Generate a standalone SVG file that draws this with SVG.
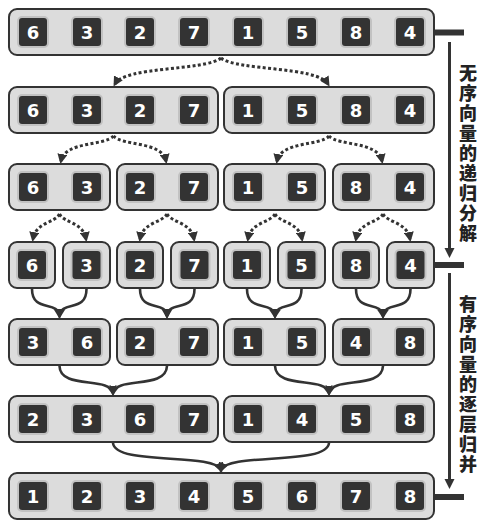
<svg xmlns="http://www.w3.org/2000/svg" width="484" height="530" viewBox="0 0 484 530">
<style>
.box{fill:#dcdcdc;stroke:#333;stroke-width:2}
.ring{fill:#c2c2c2}
.sq{fill:#333}
.d{font-family:"DejaVu Sans",sans-serif;font-weight:bold;font-size:18px;fill:#fff;text-anchor:middle;dominant-baseline:central}
.dot{fill:none;stroke:#333;stroke-width:3;stroke-dasharray:3 2.4;marker-end:url(#ah)}
.mg{fill:none;stroke:#333;stroke-width:2.6;marker-end:url(#ah2)}
.lab{font-family:"Noto Sans CJK SC",sans-serif;font-weight:900;font-size:18px;fill:#222;writing-mode:vertical-rl;text-orientation:upright;letter-spacing:2px}
</style>
<defs>
<marker id="ah" viewBox="0 0 10 10" refX="7" refY="5" markerWidth="10" markerHeight="10" markerUnits="userSpaceOnUse" orient="auto"><path d="M0,0 L10,5 L0,10 z" fill="#333"/></marker>
<marker id="ah2" viewBox="0 0 10 10" refX="7" refY="5" markerWidth="10" markerHeight="10" markerUnits="userSpaceOnUse" orient="auto"><path d="M0,0 L10,5 L0,10 z" fill="#333"/></marker>
<g id="cell"><rect class="ring" x="-16" y="-16" width="32" height="32" rx="5"/><rect class="sq" x="-14" y="-14" width="28" height="28" rx="3"/></g>
</defs>

<!-- Row 1 -->
<g id="r1">
<rect class="box" x="9" y="9" width="425" height="46" rx="8"/>
<g transform="translate(33,32)"><use href="#cell"/><text class="d">6</text></g>
<g transform="translate(87,32)"><use href="#cell"/><text class="d">3</text></g>
<g transform="translate(140,32)"><use href="#cell"/><text class="d">2</text></g>
<g transform="translate(194,32)"><use href="#cell"/><text class="d">7</text></g>
<g transform="translate(248,32)"><use href="#cell"/><text class="d">1</text></g>
<g transform="translate(302,32)"><use href="#cell"/><text class="d">5</text></g>
<g transform="translate(356,32)"><use href="#cell"/><text class="d">8</text></g>
<g transform="translate(410,32)"><use href="#cell"/><text class="d">4</text></g>
</g>

<!-- Row 2 -->
<g id="r2a">
<rect class="box" x="9" y="87" width="209" height="46" rx="8"/>
<g transform="translate(33,110)"><use href="#cell"/><text class="d">6</text></g>
<g transform="translate(87,110)"><use href="#cell"/><text class="d">3</text></g>
<g transform="translate(140,110)"><use href="#cell"/><text class="d">2</text></g>
<g transform="translate(194,110)"><use href="#cell"/><text class="d">7</text></g>
</g>
<g id="r2b">
<rect class="box" x="224" y="87" width="210" height="46" rx="8"/>
<g transform="translate(248,110)"><use href="#cell"/><text class="d">1</text></g>
<g transform="translate(302,110)"><use href="#cell"/><text class="d">5</text></g>
<g transform="translate(356,110)"><use href="#cell"/><text class="d">8</text></g>
<g transform="translate(410,110)"><use href="#cell"/><text class="d">4</text></g>
</g>

<!-- Row 3 -->
<g id="r3a"><rect class="box" x="9" y="164" width="101" height="46" rx="8"/>
<g transform="translate(33,187)"><use href="#cell"/><text class="d">6</text></g>
<g transform="translate(87,187)"><use href="#cell"/><text class="d">3</text></g></g>
<g id="r3b"><rect class="box" x="117" y="164" width="101" height="46" rx="8"/>
<g transform="translate(140,187)"><use href="#cell"/><text class="d">2</text></g>
<g transform="translate(194,187)"><use href="#cell"/><text class="d">7</text></g></g>
<g id="r3c"><rect class="box" x="224" y="164" width="101" height="46" rx="8"/>
<g transform="translate(248,187)"><use href="#cell"/><text class="d">1</text></g>
<g transform="translate(302,187)"><use href="#cell"/><text class="d">5</text></g></g>
<g id="r3d"><rect class="box" x="333" y="164" width="101" height="46" rx="8"/>
<g transform="translate(356,187)"><use href="#cell"/><text class="d">8</text></g>
<g transform="translate(410,187)"><use href="#cell"/><text class="d">4</text></g></g>

<!-- Row 4 -->
<g id="r4a"><rect class="box" x="9" y="242" width="46" height="46" rx="8"/><g transform="translate(32,265)"><use href="#cell"/><text class="d">6</text></g></g>
<g id="r4b"><rect class="box" x="63" y="242" width="47" height="46" rx="8"/><g transform="translate(86.5,265)"><use href="#cell"/><text class="d">3</text></g></g>
<g id="r4c"><rect class="box" x="117" y="242" width="46" height="46" rx="8"/><g transform="translate(140,265)"><use href="#cell"/><text class="d">2</text></g></g>
<g id="r4d"><rect class="box" x="171" y="242" width="47" height="46" rx="8"/><g transform="translate(194.5,265)"><use href="#cell"/><text class="d">7</text></g></g>
<g id="r4e"><rect class="box" x="224" y="242" width="46" height="46" rx="8"/><g transform="translate(247,265)"><use href="#cell"/><text class="d">1</text></g></g>
<g id="r4f"><rect class="box" x="278" y="242" width="47" height="46" rx="8"/><g transform="translate(301.5,265)"><use href="#cell"/><text class="d">5</text></g></g>
<g id="r4g"><rect class="box" x="333" y="242" width="46" height="46" rx="8"/><g transform="translate(356,265)"><use href="#cell"/><text class="d">8</text></g></g>
<g id="r4h"><rect class="box" x="387" y="242" width="47" height="46" rx="8"/><g transform="translate(410.5,265)"><use href="#cell"/><text class="d">4</text></g></g>

<!-- Row 5 -->
<g id="r5a"><rect class="box" x="9" y="319" width="101" height="46" rx="8"/>
<g transform="translate(33,342)"><use href="#cell"/><text class="d">3</text></g>
<g transform="translate(87,342)"><use href="#cell"/><text class="d">6</text></g></g>
<g id="r5b"><rect class="box" x="117" y="319" width="101" height="46" rx="8"/>
<g transform="translate(140,342)"><use href="#cell"/><text class="d">2</text></g>
<g transform="translate(194,342)"><use href="#cell"/><text class="d">7</text></g></g>
<g id="r5c"><rect class="box" x="224" y="319" width="101" height="46" rx="8"/>
<g transform="translate(248,342)"><use href="#cell"/><text class="d">1</text></g>
<g transform="translate(302,342)"><use href="#cell"/><text class="d">5</text></g></g>
<g id="r5d"><rect class="box" x="333" y="319" width="101" height="46" rx="8"/>
<g transform="translate(356,342)"><use href="#cell"/><text class="d">4</text></g>
<g transform="translate(410,342)"><use href="#cell"/><text class="d">8</text></g></g>

<!-- Row 6 -->
<g id="r6a">
<rect class="box" x="9" y="396" width="209" height="46" rx="8"/>
<g transform="translate(33,419)"><use href="#cell"/><text class="d">2</text></g>
<g transform="translate(87,419)"><use href="#cell"/><text class="d">3</text></g>
<g transform="translate(140,419)"><use href="#cell"/><text class="d">6</text></g>
<g transform="translate(194,419)"><use href="#cell"/><text class="d">7</text></g>
</g>
<g id="r6b">
<rect class="box" x="224" y="396" width="210" height="46" rx="8"/>
<g transform="translate(248,419)"><use href="#cell"/><text class="d">1</text></g>
<g transform="translate(302,419)"><use href="#cell"/><text class="d">4</text></g>
<g transform="translate(356,419)"><use href="#cell"/><text class="d">5</text></g>
<g transform="translate(410,419)"><use href="#cell"/><text class="d">8</text></g>
</g>

<!-- Row 7 -->
<g id="r7">
<rect class="box" x="9" y="473" width="425" height="46" rx="8"/>
<g transform="translate(33,496)"><use href="#cell"/><text class="d">1</text></g>
<g transform="translate(87,496)"><use href="#cell"/><text class="d">2</text></g>
<g transform="translate(140,496)"><use href="#cell"/><text class="d">3</text></g>
<g transform="translate(194,496)"><use href="#cell"/><text class="d">4</text></g>
<g transform="translate(248,496)"><use href="#cell"/><text class="d">5</text></g>
<g transform="translate(302,496)"><use href="#cell"/><text class="d">6</text></g>
<g transform="translate(356,496)"><use href="#cell"/><text class="d">7</text></g>
<g transform="translate(410,496)"><use href="#cell"/><text class="d">8</text></g>
</g>

<!-- Connectors -->
<g id="connectors">
<path class="dot" d="M221,58 C205,71 125,66 115,84"/>
<path class="dot" d="M221,58 C237,71 317,66 328,84"/>
<path class="dot" d="M113.5,136 C105,146 65,141 61,161"/>
<path class="dot" d="M113.5,136 C122,146 162,141 166,161"/>
<path class="dot" d="M329,136 C321,146 281,141 277,161"/>
<path class="dot" d="M329,136 C338,146 378,141 382,161"/>
<path class="dot" d="M59.5,214 C55,223 36,222 33,239"/>
<path class="dot" d="M59.5,214 C64,223 83,222 86,239"/>
<path class="dot" d="M167,214 C162,223 143,222 140,239"/>
<path class="dot" d="M167,214 C172,223 191,222 194,239"/>
<path class="dot" d="M275,214 C270,223 251,222 248,239"/>
<path class="dot" d="M275,214 C280,223 299,222 302,239"/>
<path class="dot" d="M383,214 C378,223 359,222 356,239"/>
<path class="dot" d="M383,214 C388,223 407,222 410,239"/>

<path class="mg" d="M32,289 C32,313 58,300 59.5,316"/>
<path class="mg" d="M86.5,289 C86.5,313 61,300 59.5,316"/>
<path class="mg" d="M140,289 C140,313 166,300 167,316"/>
<path class="mg" d="M194.5,289 C194.5,313 168,300 167,316"/>
<path class="mg" d="M247,289 C247,313 273,300 275,316"/>
<path class="mg" d="M301.5,289 C301.5,313 277,300 275,316"/>
<path class="mg" d="M356,289 C356,313 381,300 383,316"/>
<path class="mg" d="M410.5,289 C410.5,313 385,300 383,316"/>

<path class="mg" d="M59.5,366 C60,390 110,376 113,393"/>
<path class="mg" d="M167,366 C166,390 116,376 113,393"/>
<path class="mg" d="M275,366 C276,390 326,376 329,393"/>
<path class="mg" d="M383,366 C382,390 332,376 329,393"/>

<path class="mg" d="M113,443 C115,466 214,452 221,470"/>
<path class="mg" d="M329,443 C327,466 228,452 221,470"/>
</g>

<!-- Side annotation -->
<g id="side">
<line x1="434" y1="32.5" x2="464" y2="32.5" stroke="#333" stroke-width="6"/>
<line x1="434" y1="265" x2="464" y2="265" stroke="#333" stroke-width="6"/>
<line x1="434" y1="497" x2="464" y2="497" stroke="#333" stroke-width="6"/>
<line x1="449.5" y1="42" x2="449.5" y2="250" stroke="#333" stroke-width="3"/>
<path d="M444.5,248 L454.5,248 L449.5,258 z" fill="#333"/>
<line x1="449.5" y1="273" x2="449.5" y2="481" stroke="#333" stroke-width="3"/>
<path d="M444.5,479 L454.5,479 L449.5,489 z" fill="#333"/>
<text class="lab" x="468" y="64">无序向量的递归分解</text>
<text class="lab" x="468" y="295">有序向量的逐层归并</text>
</g>
</svg>
